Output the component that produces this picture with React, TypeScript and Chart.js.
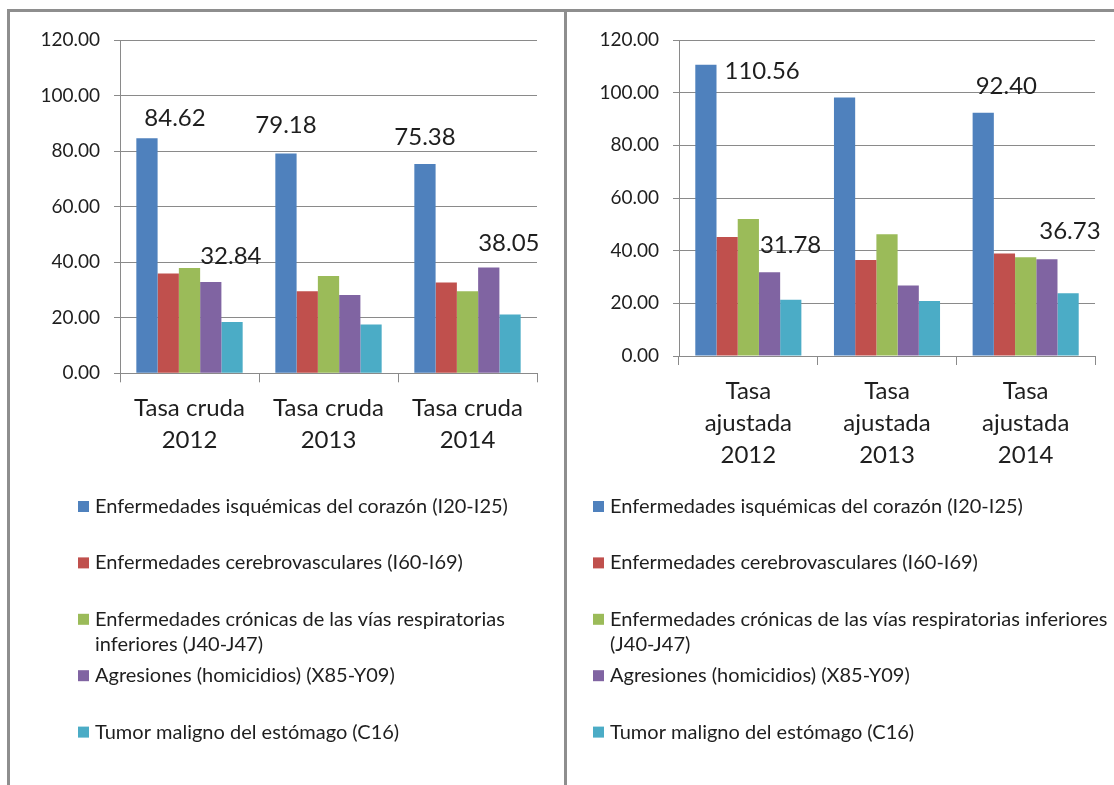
import React, { useEffect, useRef } from 'react';
import { Chart, registerables } from 'chart.js';

Chart.register(...registerables);

// ---------- data ----------
const SERIES_NAMES = [
  'Enfermedades isquémicas del corazón (I20-I25)',
  'Enfermedades cerebrovasculares (I60-I69)',
  'Enfermedades crónicas de las vías respiratorias inferiores (J40-J47)',
  'Agresiones (homicidios) (X85-Y09)',
  'Tumor maligno del estómago (C16)',
];

const CRUDA_CATEGORIES = [
  ['Tasa cruda', '2012'],
  ['Tasa cruda', '2013'],
  ['Tasa cruda', '2014'],
];
const AJUSTADA_CATEGORIES = [
  ['Tasa', 'ajustada', '2012'],
  ['Tasa', 'ajustada', '2013'],
  ['Tasa', 'ajustada', '2014'],
];

const CRUDA_ISQUEMICAS = [84.62, 79.18, 75.38];
const CRUDA_CEREBRO = [35.9, 29.5, 32.7];
const CRUDA_RESPIRATORIAS = [37.9, 35.0, 29.5];
const CRUDA_AGRESIONES = [32.84, 28.2, 38.05];
const CRUDA_ESTOMAGO = [18.5, 17.6, 21.2];

const AJUSTADA_ISQUEMICAS = [110.56, 98.2, 92.4];
const AJUSTADA_CEREBRO = [45.2, 36.5, 38.9];
const AJUSTADA_RESPIRATORIAS = [52.0, 46.2, 37.5];
const AJUSTADA_AGRESIONES = [31.78, 26.8, 36.73];
const AJUSTADA_ESTOMAGO = [21.4, 20.9, 23.8];

const Y_MIN = 0;
const Y_MAX = 120;
const Y_STEP = 20;

// which bars carry a value label: [series index, category index]
const CRUDA_LABELLED = [[0, 0], [0, 1], [0, 2], [3, 0], [3, 2]];
const AJUSTADA_LABELLED = [[0, 0], [0, 2], [3, 0], [3, 2]];

// ---------- styles ----------
const COLORS = ['#4F81BD', '#C0504D', '#9BBB59', '#8064A2', '#4BACC6'];
const GRID = '#8a8a8a';
const TEXT = '#1e1e1e';
const FONT = 'Lato';

// label placement (style): anchor on the bar + pixel offsets
const CRUDA_LABEL_STYLE = [
  { anchor: 'left', dx: 8, dy: -12 },
  { anchor: 'center', dx: 0, dy: -20 },
  { anchor: 'center', dx: 0, dy: -19 },
  { anchor: 'left', dx: 0, dy: -18 },
  { anchor: 'left', dx: 0, dy: -17 },
];
const AJUSTADA_LABEL_STYLE = [
  { anchor: 'right', dx: 8, dy: 14 },
  { anchor: 'left', dx: 3, dy: -19 },
  { anchor: 'left', dx: 1, dy: -19 },
  { anchor: 'left', dx: 3, dy: -20 },
];

const extrasPlugin = {
  id: 'panelExtras',
  afterDatasetsDraw(chart: any) {
    const o = chart.options.plugins.panelExtras;
    if (!o) return;
    const ctx = chart.ctx;
    ctx.save();
    ctx.font = `${o.valueSize}px ${FONT}`;
    ctx.fillStyle = TEXT;
    ctx.textAlign = 'left';
    ctx.textBaseline = 'alphabetic';
    o.labelled.forEach((pair: number[], i: number) => {
      const [s, c] = pair;
      const st = o.labelStyle[i];
      const el: any = chart.getDatasetMeta(s).data[c];
      const v = chart.data.datasets[s].data[c] as number;
      const text = v.toFixed(2);
      const w = ctx.measureText(text).width;
      const left = el.x - el.width / 2;
      const right = el.x + el.width / 2;
      let x = st.anchor === 'center' ? el.x - w / 2 : st.anchor === 'right' ? right : left;
      x += st.dx;
      ctx.fillText(text, x, el.y + st.dy);
    });
    ctx.restore();
  },
  afterDraw(chart: any) {
    const o = chart.options.plugins.panelExtras;
    if (!o) return;
    const lg = o.legend;
    const ctx = chart.ctx;
    ctx.save();
    ctx.font = `${lg.size}px ${FONT}`;
    ctx.textAlign = 'left';
    ctx.textBaseline = 'middle';
    chart.data.datasets.forEach((ds: any, i: number) => {
      const y0 = lg.top + i * lg.step;
      ctx.fillStyle = ds.backgroundColor;
      ctx.fillRect(lg.markerX, y0 - lg.box / 2, lg.box, lg.box);
      // word wrap
      const words = String(ds.label).split(' ');
      const lines: string[] = [];
      let cur = '';
      words.forEach((wd) => {
        const t = cur ? cur + ' ' + wd : wd;
        if (ctx.measureText(t).width > lg.maxWidth && cur) {
          lines.push(cur);
          cur = wd;
        } else cur = t;
      });
      if (cur) lines.push(cur);
      ctx.fillStyle = TEXT;
      lines.forEach((ln, k) => ctx.fillText(ln, lg.textX, y0 + k * lg.lineStep));
    });
    ctx.restore();
  },
};

function makeDatasets(series: number[][]) {
  return series.map((d, i) => ({
    label: SERIES_NAMES[i],
    data: d,
    backgroundColor: COLORS[i],
    borderWidth: 0,
    categoryPercentage: 0.765,
    barPercentage: 1.0,
  }));
}

type PanelProps = {
  width: number;
  height: number;
  categories: string[][];
  series: number[][];
  labelled: number[][];
  labelStyle: any[];
  plotLeft: number;
  plotRight: number;
  plotTop: number;
  plotBottom: number;
  legend: any;
};

function Panel(p: PanelProps) {
  const ref = useRef<HTMLCanvasElement>(null);
  useEffect(() => {
    if (!ref.current) return;
    const padBottom = 300;
    const xHeight = p.height - p.plotBottom - padBottom;
    const chart = new Chart(ref.current, {
      type: 'bar',
      data: { labels: p.categories, datasets: makeDatasets(p.series) },
      plugins: [extrasPlugin],
      options: {
        responsive: false,
        animation: false,
        layout: { padding: { left: 0, top: p.plotTop, right: p.width - p.plotRight, bottom: padBottom } },
        plugins: {
          legend: { display: false },
          tooltip: { enabled: false },
          panelExtras: { labelled: p.labelled, labelStyle: p.labelStyle, valueSize: 24, legend: p.legend },
        } as any,
        scales: {
          x: {
            grid: { display: true, drawOnChartArea: false, drawTicks: true, tickLength: 9, color: GRID, offset: true },
            border: { display: true, color: GRID },
            ticks: {
              font: { family: FONT, size: 24, lineHeight: 1.33 },
              color: TEXT,
              padding: 10,
              maxRotation: 0,
              autoSkip: false,
            },
            afterFit: (s: any) => {
              s.height = xHeight;
            },
          },
          y: {
            min: Y_MIN,
            max: Y_MAX,
            ticks: {
              stepSize: Y_STEP,
              callback: (v: any) => Number(v).toFixed(2),
              font: { family: FONT, size: 19 },
              color: TEXT,
              padding: 14,
            },
            grid: { color: GRID, tickLength: 6, drawTicks: true },
            border: { display: true, color: GRID },
            afterFit: (s: any) => {
              s.width = p.plotLeft;
            },
          },
        },
      } as any,
    });
    return () => chart.destroy();
  }, []);
  return <canvas ref={ref} width={p.width} height={p.height} style={{ display: 'block', width: p.width, height: p.height }} />;
}

export default function App() {
  const BORDER = '#8e8e8e';
  return (
    <div style={{ position: 'absolute', left: 0, top: 0, width: 1114, height: 785, overflow: 'hidden', background: '#fff' }}>
      <div
        style={{
          position: 'absolute',
          left: 7,
          top: 9,
          width: 560,
          height: 800,
          boxSizing: 'border-box',
          borderLeft: `3px solid ${BORDER}`,
          borderTop: `3px solid ${BORDER}`,
          borderRight: `3px solid ${BORDER}`,
        }}
      />
      <div
        style={{
          position: 'absolute',
          left: 567,
          top: 9,
          width: 560,
          height: 800,
          boxSizing: 'border-box',
          borderTop: `3px solid ${BORDER}`,
        }}
      />
      <div style={{ position: 'absolute', left: 11, top: 12 }}>
        <Panel
          width={552}
          height={773}
          categories={CRUDA_CATEGORIES}
          series={[CRUDA_ISQUEMICAS, CRUDA_CEREBRO, CRUDA_RESPIRATORIAS, CRUDA_AGRESIONES, CRUDA_ESTOMAGO]}
          labelled={CRUDA_LABELLED}
          labelStyle={CRUDA_LABEL_STYLE}
          plotLeft={109}
          plotRight={526}
          plotTop={28}
          plotBottom={361.3}
          legend={{ markerX: 67, box: 11, textX: 84, top: 494.5, step: 56.4, lineStep: 25.5, size: 20, maxWidth: 440 }}
        />
      </div>
      <div style={{ position: 'absolute', left: 569, top: 12 }}>
        <Panel
          width={545}
          height={773}
          categories={AJUSTADA_CATEGORIES}
          series={[AJUSTADA_ISQUEMICAS, AJUSTADA_CEREBRO, AJUSTADA_RESPIRATORIAS, AJUSTADA_AGRESIONES, AJUSTADA_ESTOMAGO]}
          labelled={AJUSTADA_LABELLED}
          labelStyle={AJUSTADA_LABEL_STYLE}
          plotLeft={110}
          plotRight={526}
          plotTop={28}
          plotBottom={344}
          legend={{ markerX: 24, box: 11, textX: 41, top: 494.5, step: 56.4, lineStep: 25.5, size: 20, maxWidth: 504 }}
        />
      </div>
    </div>
  );
}
